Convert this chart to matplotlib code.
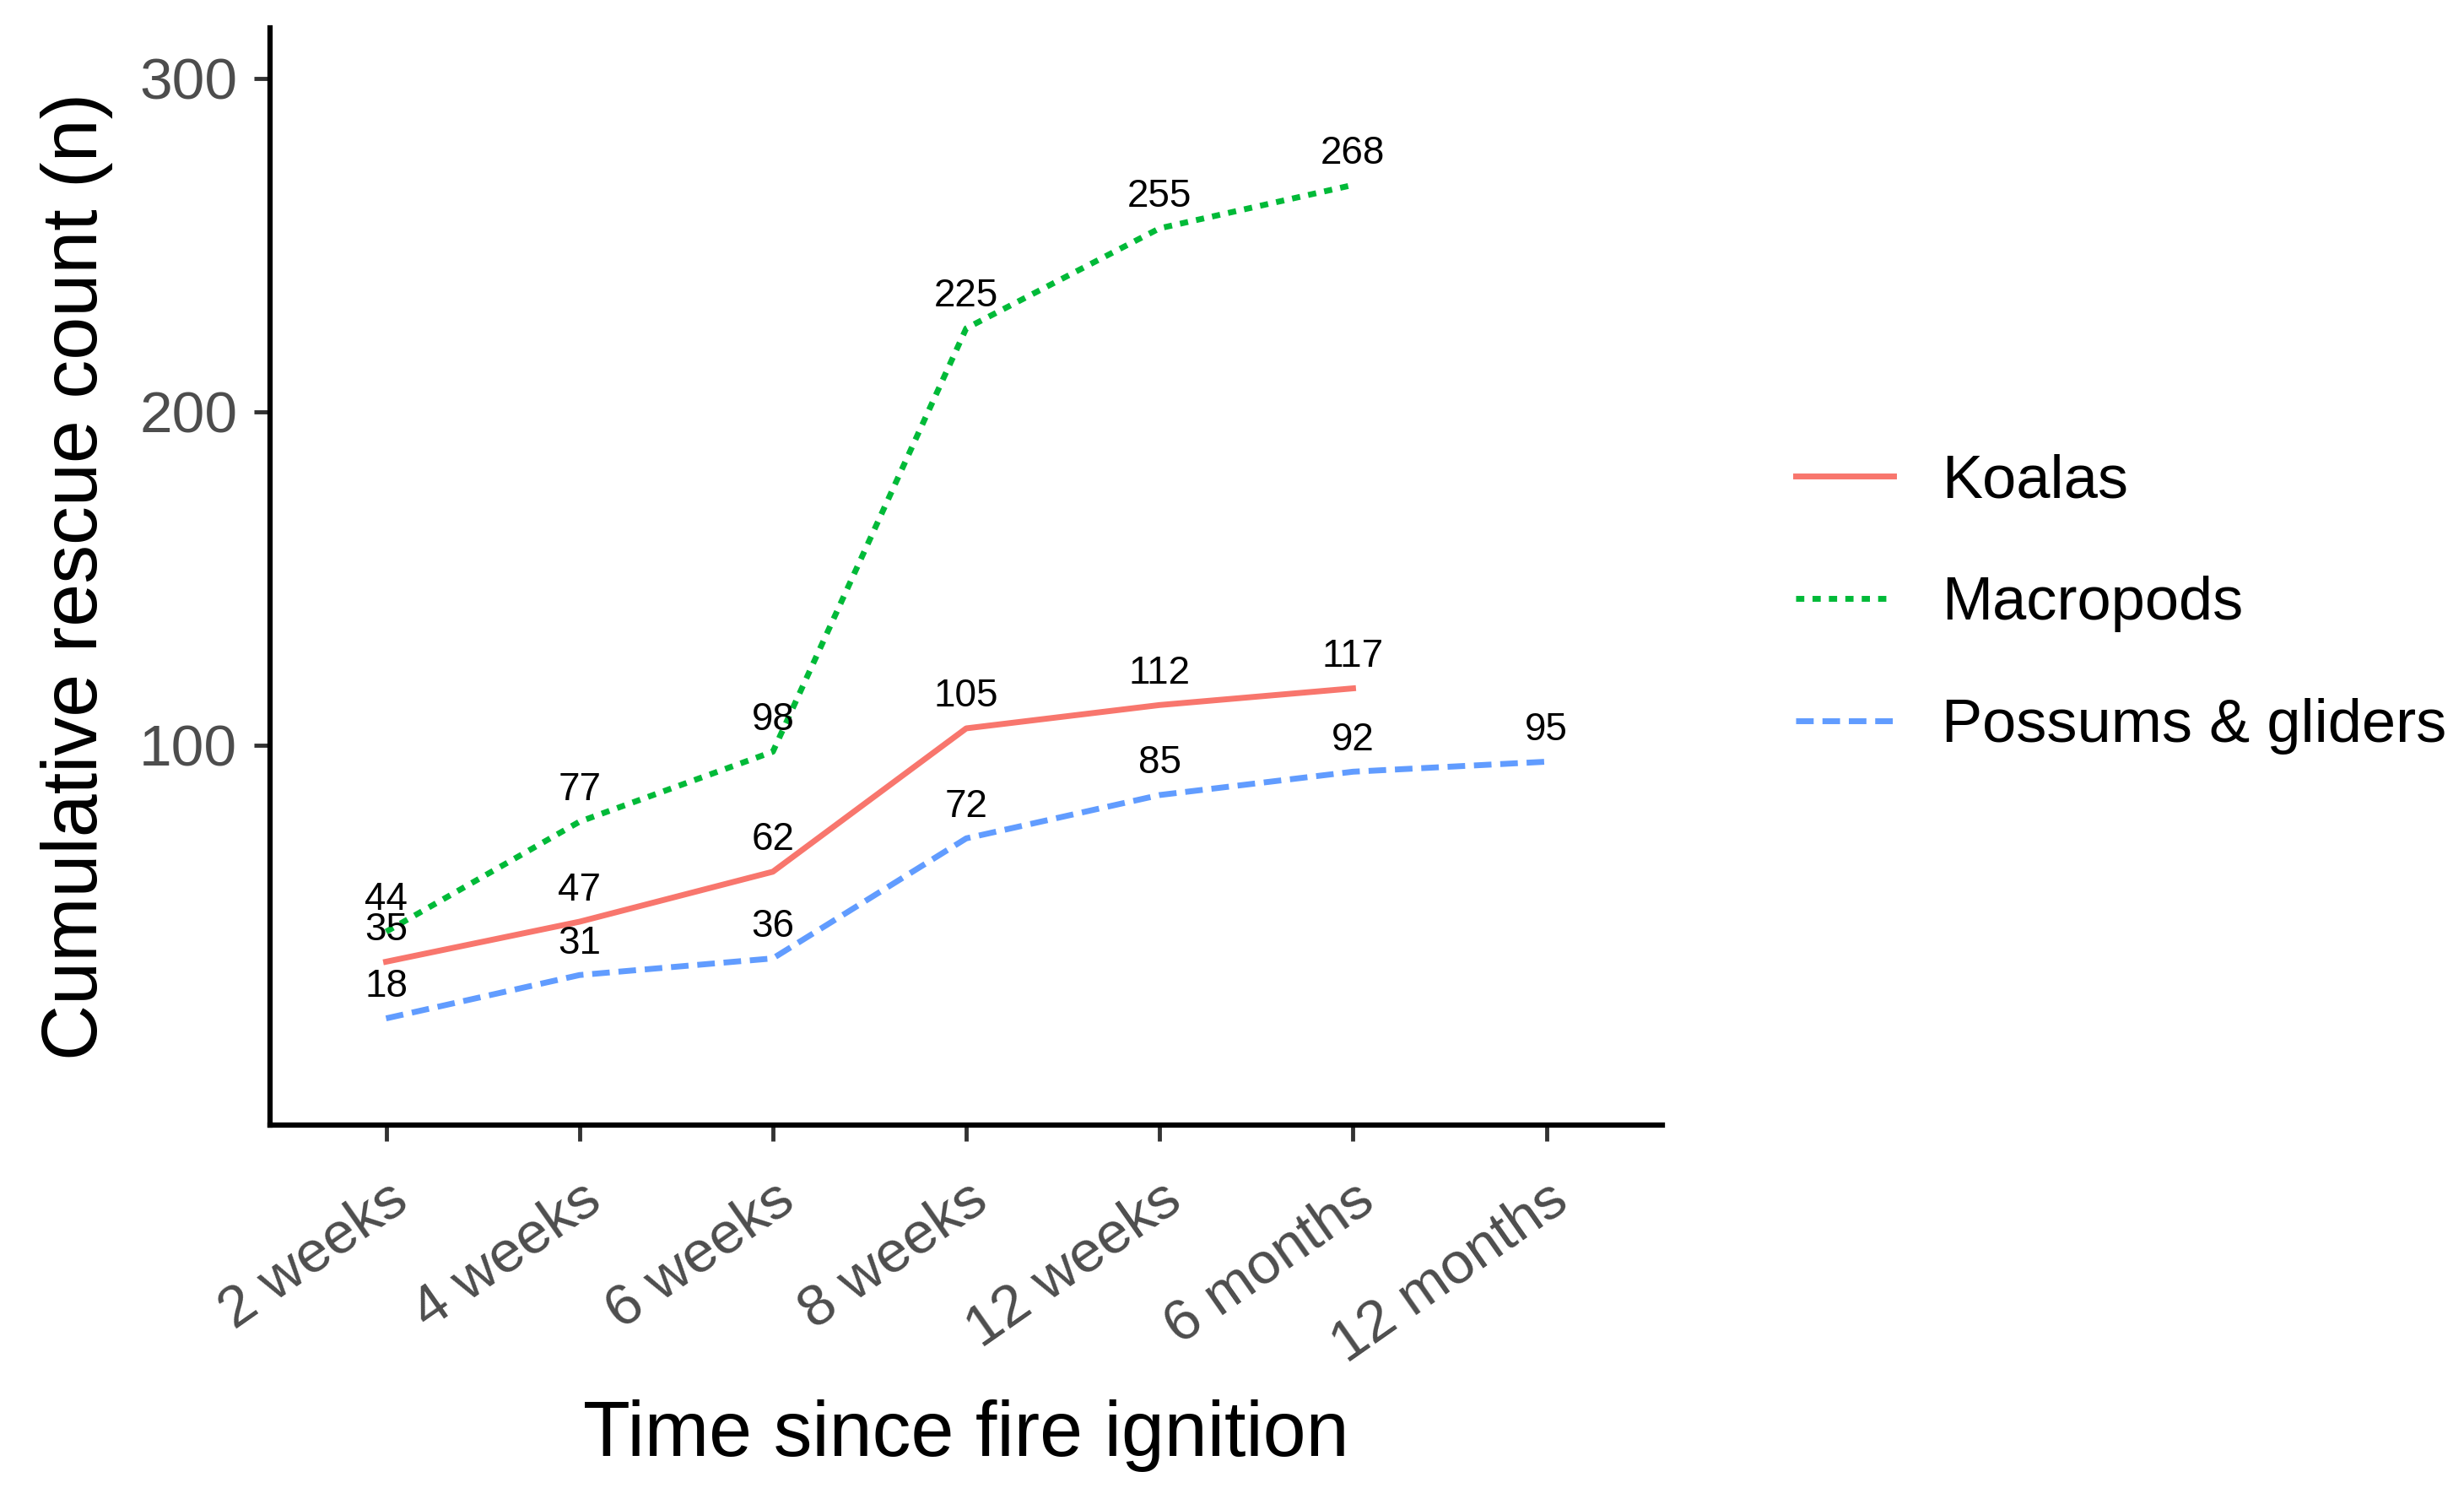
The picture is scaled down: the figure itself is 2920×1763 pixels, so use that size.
import matplotlib
matplotlib.use('Agg')
import matplotlib.pyplot as plt
import numpy as np

plt.rcParams['font.family'] = ['Liberation Sans', 'DejaVu Sans']

# data
periods = ['2 weeks', '4 weeks', '6 weeks', '8 weeks', '12 weeks', '6 months', '12 months']
koalas = [35, 47, 62, 105, 112, 117]
macropods = [44, 77, 98, 225, 255, 268]
possums = [18, 31, 36, 72, 85, 92, 95]

series = [
    ('Koalas', koalas, '#F8766D', '-'),
    ('Macropods', macropods, '#00BA38', (0, (1.4, 1.4))),
    ('Possums & gliders', possums, '#619CFF', (0, (3, 1.5))),
]

fig = plt.figure(figsize=(29.2, 17.63), dpi=100)
ax = fig.add_axes([0.1096, 0.2439, 0.5651, 0.7371])

x = np.arange(len(periods))
for name, vals, col, ls in series:
    xs = x[:len(vals)]
    ax.plot(xs, vals, color=col, linestyle=ls, linewidth=5, label=name)
    for xi, v in zip(xs, vals):
        ax.annotate(str(v), (xi, v), xytext=(0, 27), textcoords='offset points',
                    ha='center', va='center', fontsize=33, color='black')

ax.set_xlim(-0.6, 6.6)
ax.set_ylim(-14, 315)
ax.set_xticks(x)
ax.set_xticklabels(periods, rotation=35, ha='right', va='top', rotation_mode='anchor')
ax.set_yticks([100, 200, 300])

for s in ['top', 'right']:
    ax.spines[s].set_visible(False)
for s in ['left', 'bottom']:
    ax.spines[s].set_linewidth(4.5)
    ax.spines[s].set_color('black')

ax.tick_params(axis='both', length=14, width=3.5, color='#333333',
               labelsize=50, labelcolor='#4D4D4D')
ax.tick_params(axis='x', pad=26)
ax.tick_params(axis='y', pad=14)

ax.set_xlabel('Time since fire ignition', fontsize=66, labelpad=22)
ax.set_ylabel('Cumulative rescue count (n)', fontsize=66, labelpad=22)

fig.legend(loc='center left', bbox_to_anchor=(0.7288, 0.594), frameon=False,
           fontsize=52, handlelength=1.6, handletextpad=0.8, labelspacing=1.08,
           borderpad=0, borderaxespad=0)

fig.savefig('out.png', dpi=100)
